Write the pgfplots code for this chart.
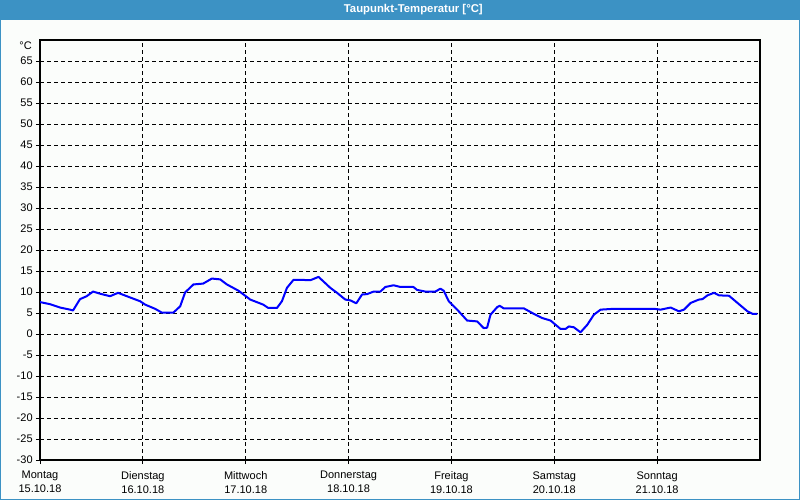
\documentclass[border=0pt]{standalone}
\usepackage{pgfplots}
\pgfplotsset{compat=1.18}
\usepackage{fontspec}
\setmainfont{Liberation Sans}
\definecolor{titleblue}{RGB}{60,146,196}
\definecolor{bgcol}{RGB}{251,253,251}
\definecolor{lineblue}{RGB}{0,0,255}
\begin{document}
\begin{tikzpicture}
\useasboundingbox (0,0) rectangle (600pt,375pt);
\fill[bgcol] (0,0) rectangle (600pt,375pt);
\fill[titleblue] (0,360pt) rectangle (600pt,375pt);
\draw[titleblue, line width=1pt] (0.5pt,0.5pt) rectangle (599.5pt,374.5pt);
\node[text=white, font=\bfseries\fontsize{8.5}{10}\selectfont] at (310pt,367.5pt) {Taupunkt-Temperatur [°C]};
\begin{axis}[
  at={(30pt,30pt)}, anchor=south west,
  width=540pt, height=315pt, scale only axis,
  xmin=0, xmax=7, ymin=-30, ymax=70,
  ytick={-30,-25,...,65},
  xtick={0,1,2,3,4,5,6},
  xticklabels={{Montag\\15.10.18},{Dienstag\\16.10.18},{Mittwoch\\17.10.18},{Donnerstag\\18.10.18},{Freitag\\19.10.18},{Samstag\\20.10.18},{Sonntag\\21.10.18}},
  xticklabel style={align=center, font=\fontsize{8.25}{10.5}\selectfont, yshift=-2pt},
  yticklabel style={font=\fontsize{8.25}{10}\selectfont, xshift=1pt},
  /pgf/number format/assume math mode=true,
  tick align=outside,
  tick pos=left,
  major tick length=3pt,
  tick style={black, line width=0.6pt},
  grid=major,
  grid style={black, line width=0.6pt, dash pattern=on 3pt off 2.25pt},
  axis line style={black, line width=1pt},
  axis background/.style={fill=bgcol},
  clip mode=individual,
]
\node[anchor=east, font=\fontsize{8.25}{10}\selectfont, inner sep=0pt] at (rel axis cs:0,1) [xshift=-6pt, yshift=-4pt] {°C};
\addplot[lineblue, line width=1.5pt, line join=round] table {
0.000 7.6
0.097 7.1
0.195 6.3
0.292 5.8
0.321 5.6
0.389 8.3
0.454 9.0
0.516 10.1
0.584 9.6
0.681 9.0
0.759 9.8
0.876 8.7
0.973 7.8
1.022 7.0
1.119 6.0
1.184 5.1
1.297 5.1
1.363 6.6
1.411 9.9
1.492 11.8
1.586 12.0
1.671 13.2
1.752 13.0
1.817 11.8
1.930 10.3
2.044 8.2
2.170 7.0
2.219 6.2
2.304 6.2
2.352 7.8
2.401 11.0
2.465 12.9
2.530 12.9
2.628 12.8
2.708 13.6
2.822 11.0
2.888 9.8
2.968 8.2
3.017 8.0
3.075 7.3
3.131 9.4
3.180 9.5
3.244 10.1
3.309 10.1
3.358 11.2
3.438 11.6
3.504 11.2
3.630 11.2
3.666 10.5
3.747 10.1
3.844 10.1
3.893 10.8
3.925 10.3
3.974 7.8
4.022 6.6
4.071 5.4
4.153 3.2
4.250 3.0
4.314 1.4
4.347 1.5
4.380 4.6
4.445 6.4
4.470 6.7
4.509 6.1
4.704 6.1
4.801 4.8
4.883 3.8
4.964 3.2
5.061 1.2
5.109 1.2
5.142 1.8
5.190 1.6
5.255 0.4
5.321 2.2
5.385 4.6
5.450 5.8
5.580 6.0
5.969 6.0
6.034 5.8
6.131 6.3
6.212 5.4
6.261 5.8
6.326 7.4
6.407 8.2
6.440 8.3
6.489 9.2
6.553 9.8
6.601 9.2
6.699 9.1
6.781 7.4
6.878 5.4
6.927 4.8
6.975 4.8
};
\end{axis}
\end{tikzpicture}
\end{document}
